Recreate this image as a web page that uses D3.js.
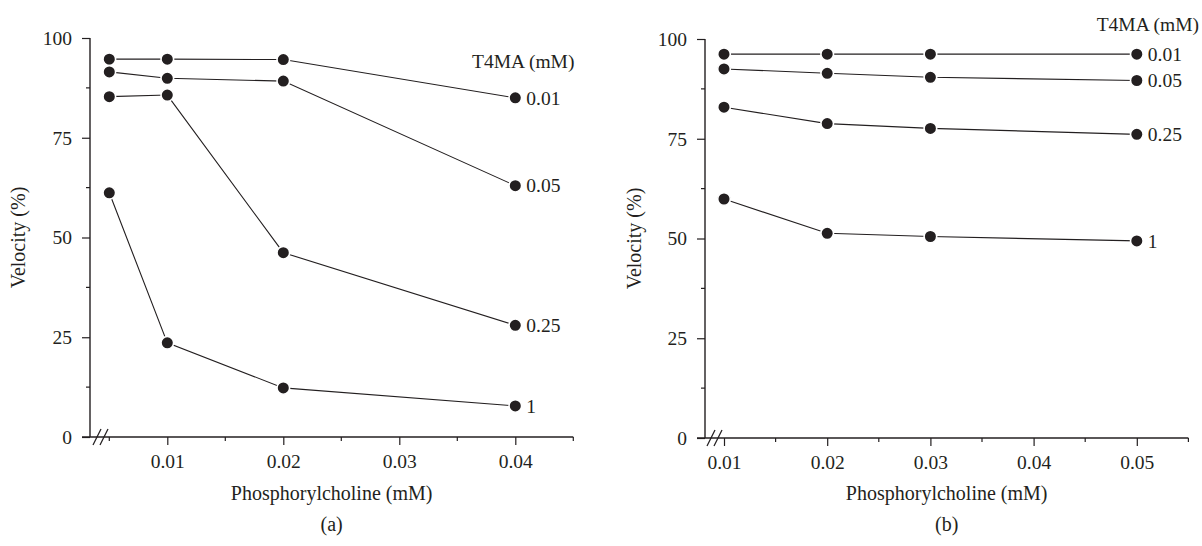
<!DOCTYPE html>
<html>
<head>
<meta charset="utf-8">
<script src="https://cdn.jsdelivr.net/npm/d3@7"></script>
<style>
  html, body { margin: 0; padding: 0; background: #fff; }
  svg { display: block; }
  text { font-family: "Liberation Serif", "Times New Roman", serif; fill: #231f20; }
</style>
</head>
<body>
<svg id="chart" width="1202" height="546"></svg>
<script>
// ---------- data ----------
const seriesNames = ["0.01", "0.05", "0.25", "1"];   // T4MA (mM)

const xA = [0.005, 0.01, 0.02, 0.04];
const a_001 = [94.7, 94.7, 94.6, 85.0];
const a_005 = [91.5, 89.9, 89.2, 63.0];
const a_025 = [85.3, 85.7, 46.2, 28.0];
const a_1   = [61.2, 23.6, 12.3, 7.8];

const xB = [0.01, 0.02, 0.03, 0.05];
const b_001 = [96.2, 96.2, 96.2, 96.2];
const b_005 = [92.5, 91.4, 90.4, 89.6];
const b_025 = [82.9, 78.8, 77.6, 76.1];
const b_1   = [59.9, 51.3, 50.5, 49.4];

const yTicks = [0, 25, 50, 75, 100];
const yMinor = [12.5, 37.5, 62.5, 87.5];
const xTicksA = [0.01, 0.02, 0.03, 0.04];
const xMinorA = [0.005, 0.015, 0.025, 0.035, 0.045];
const xTicksB = [0.01, 0.02, 0.03, 0.04, 0.05];
const xMinorB = [0.015, 0.025, 0.035, 0.045, 0.055];

const legendTitle = "T4MA (mM)";
const xTitle = "Phosphorylcholine (mM)";
const yTitle = "Velocity (%)";

// ---------- drawing ----------
const ink = "#231f20";
const FS = 19.5;   // tick / label font
const TS = 20;     // title font
const svg = d3.select("#chart");

function panel(cfg) {
  const g = svg.append("g");
  const x = d3.scaleLinear().domain(cfg.xDomain).range(cfg.xRange);
  const y = d3.scaleLinear().domain([0, 100]).range(cfg.yRange);
  const ax0 = cfg.axisX;            // pixel x of y-axis
  const xEnd = x(cfg.xMax);
  const y0 = y(0);

  // y axis
  const yAxis = d3.axisLeft(y).tickValues(yTicks).tickSize(8).tickPadding(10).tickFormat(d3.format("d"));
  const gy = g.append("g").attr("transform", `translate(${ax0},0)`).call(yAxis);
  gy.select(".domain").remove();
  gy.selectAll("line").attr("stroke", ink).attr("stroke-width", 1.2);
  gy.selectAll("text").style("font-size", FS + "px").attr("fill", ink);
  g.append("line").attr("x1", ax0).attr("x2", ax0).attr("y1", y(100)).attr("y2", y0)
    .attr("stroke", ink).attr("stroke-width", 1.4);
  g.append("g").selectAll("line").data(yMinor).join("line")
    .attr("x1", ax0 - 4).attr("x2", ax0).attr("y1", d => y(d)).attr("y2", d => y(d))
    .attr("stroke", ink).attr("stroke-width", 1.2);

  // x axis
  const xAxis = d3.axisBottom(x).tickValues(cfg.xTicks).tickSize(8).tickPadding(9).tickFormat(d3.format(".2f"));
  const gx = g.append("g").attr("transform", `translate(0,${y0})`).call(xAxis);
  gx.select(".domain").remove();
  gx.selectAll("line").attr("stroke", ink).attr("stroke-width", 1.2);
  gx.selectAll("text").style("font-size", FS + "px").attr("fill", ink);
  g.append("line").attr("x1", ax0 - 8).attr("x2", xEnd).attr("y1", y0).attr("y2", y0)
    .attr("stroke", ink).attr("stroke-width", 1.4);
  g.append("g").selectAll("line").data(cfg.xMinor).join("line")
    .attr("x1", d => x(d)).attr("x2", d => x(d)).attr("y1", y0).attr("y2", y0 + 4)
    .attr("stroke", ink).attr("stroke-width", 1.2);

  // axis break marks
  cfg.breaks.forEach(bx => {
    g.append("line").attr("x1", bx - 4).attr("x2", bx + 4).attr("y1", y0 + 8).attr("y2", y0 - 8)
      .attr("stroke", ink).attr("stroke-width", 1.3);
  });

  // series
  const line = d3.line().x(d => x(d[0])).y(d => y(d[1]));
  cfg.series.forEach((vals, i) => {
    const pts = cfg.xs.map((xv, j) => [xv, vals[j]]);
    g.append("path").datum(pts).attr("d", line).attr("fill", "none")
      .attr("stroke", ink).attr("stroke-width", 1.1);
    g.append("g").selectAll("circle").data(pts).join("circle")
      .attr("cx", d => x(d[0])).attr("cy", d => y(d[1])).attr("r", 6.3)
      .attr("fill", ink).attr("stroke", "#fff").attr("stroke-width", 1.6);
    const last = pts[pts.length - 1];
    g.append("text").attr("x", x(last[0]) + 11).attr("y", y(last[1])).attr("dy", "0.35em")
      .style("font-size", FS + "px").text(seriesNames[i]);
  });

  // legend title
  g.append("text").attr("x", cfg.legendX).attr("y", cfg.legendY).attr("text-anchor", cfg.legendAnchor)
    .style("font-size", FS + "px").text(legendTitle);

  // axis titles
  const mid = (ax0 + xEnd) / 2;
  g.append("text").attr("x", mid).attr("y", cfg.xTitleY).attr("text-anchor", "middle")
    .style("font-size", TS + "px").text(xTitle);
  g.append("text").attr("transform", `translate(${cfg.yTitleX},${(y(100) + y0) / 2}) rotate(-90)`)
    .attr("text-anchor", "middle").style("font-size", TS + "px").text(yTitle);
  g.append("text").attr("x", mid).attr("y", cfg.capY).attr("text-anchor", "middle")
    .style("font-size", TS + "px").text(cfg.cap);
}

panel({
  xs: xA, series: [a_001, a_005, a_025, a_1],
  xDomain: [0.01, 0.02], xRange: [167.3, 283.3], xMax: 0.045,
  yRange: [437, 38], axisX: 90,
  xTicks: xTicksA, xMinor: xMinorA, breaks: [97, 104],
  legendX: 472, legendY: 68, legendAnchor: "start",
  xTitleY: 500, yTitleX: 25, capY: 531, cap: "(a)"
});

panel({
  xs: xB, series: [b_001, b_005, b_025, b_1],
  xDomain: [0.01, 0.02], xRange: [724, 827.2], xMax: 0.055,
  yRange: [438, 39], axisX: 705,
  xTicks: xTicksB, xMinor: xMinorB, breaks: [711, 718],
  legendX: 1199, legendY: 31, legendAnchor: "end",
  xTitleY: 500, yTitleX: 641, capY: 531, cap: "(b)"
});
</script>
</body>
</html>
